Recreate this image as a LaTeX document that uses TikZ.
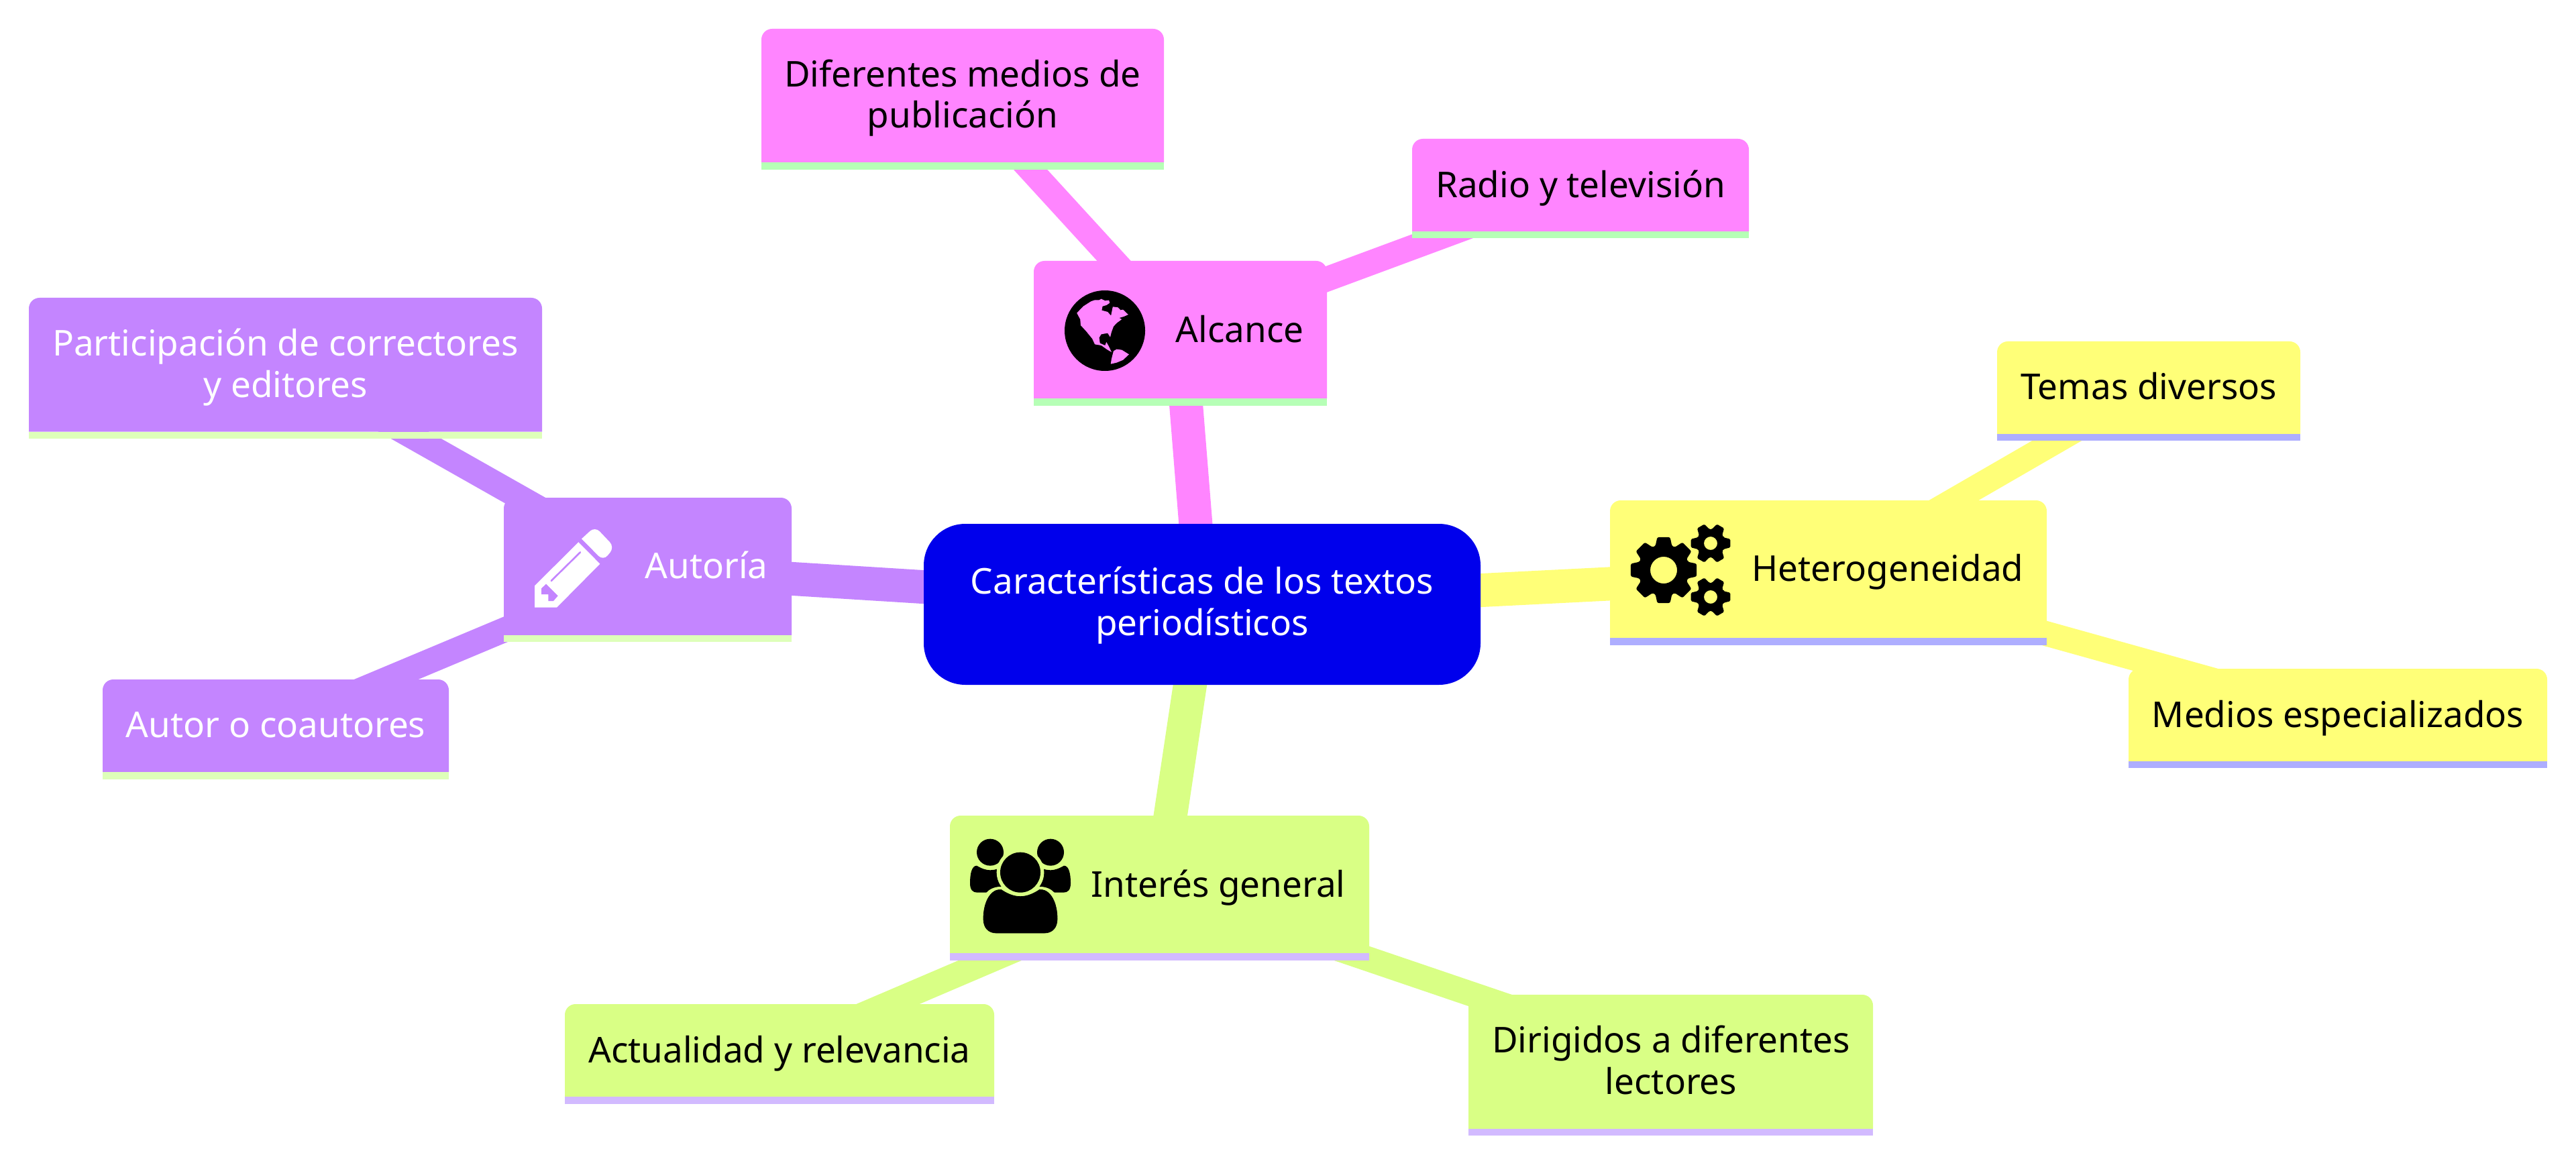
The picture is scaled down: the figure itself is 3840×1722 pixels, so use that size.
\documentclass[tikz,border=0pt]{standalone}
\usepackage{fontspec}
\setmainfont{Noto Sans}
\pgfdeclarelayer{edges}
\pgfsetlayers{edges,main}
\definecolor{cRoot}{HTML}{0000EC}
\definecolor{cYel}{HTML}{FFFF78}
\definecolor{cLime}{HTML}{D9FF85}
\definecolor{cPur}{HTML}{C485FF}
\definecolor{cPink}{HTML}{FF85FF}
\definecolor{sYel}{HTML}{AEAEFF}
\definecolor{sLime}{HTML}{D2BAFF}
\definecolor{sPur}{HTML}{DEFFB9}
\definecolor{sPink}{HTML}{B6FFB6}
\tikzset{
  x=0.5pt,y=-0.5pt,
  boxanchor/.style={inner sep=0pt,outer sep=0pt,rectangle},
  lab/.style={anchor=base,align=center,inner sep=0pt,font=\fontsize{26.5}{30.7}\selectfont},
  labW/.style={lab,text=white},
  edgeA/.style={line width=25pt,line cap=butt},
  edgeB/.style={line width=18.5pt,line cap=butt}
}
% shape of a box: x0, y0, x1, y1 (fill end), y2 (stripe end), fill, stripe
\newcommand\mmshape[7]{%
  \fill[#6] (#1,#4) [rounded corners=8pt] -- (#1,#2) -- (#3,#2) [sharp corners] -- (#3,#4) -- cycle;
  \fill[#7] (#1,#4) rectangle (#3,#5);
}
% branch box: anchor node spans fill and stripe
\newcommand\mmbox[8]{%
  \node[boxanchor,minimum width={(#4-#2)*0.5pt},minimum height={(#6-#3)*0.5pt}] (#1) at ({(#2+#4)/2},{(#3+#6)/2}) {};
  \mmshape{#2}{#3}{#4}{#5}{#6}{#7}{#8}
}
% leaf box: anchor node spans the fill only
\newcommand\mmleaf[8]{%
  \node[boxanchor,minimum width={(#4-#2)*0.5pt},minimum height={(#5-#3)*0.5pt}] (#1) at ({(#2+#4)/2},{(#3+#5)/2}) {};
  \mmshape{#2}{#3}{#4}{#5}{#6}{#7}{#8}
}
\newcommand\gearbig[2]{%
  \begin{scope}[shift={(#1,#2)}]
  \fill[black,even odd rule] [rounded corners=1.2pt] (-19:38)
    \foreach \a in {0,45,...,315} { -- (\a-19:38) -- (\a-11:50) -- (\a+11:50) -- (\a+19:38) } -- cycle
    [sharp corners] (0,0) circle (20);
  \end{scope}
}
\newcommand\gearsmall[2]{%
  \begin{scope}[shift={(#1,#2)}]
  \fill[black,even odd rule] [rounded corners=0.8pt] (-25:21)
    \foreach \a in {0,60,...,300} { -- (\a-25:21) -- (\a-12:30) -- (\a+12:30) -- (\a+25:21) } -- cycle
    [sharp corners] (0,0) circle (10);
  \end{scope}
}
\begin{document}
\begin{tikzpicture}
\useasboundingbox (0,0) rectangle (3840,1722);
\begin{pgfonlayer}{edges}
\fill[white] (0,0) rectangle (3840,1722);
\end{pgfonlayer}

% root
\node[boxanchor,minimum width=415pt,minimum height=120pt] (root) at (1792,901) {};
\fill[cRoot,rounded corners=31pt] (1377,781) rectangle (2207,1021);
\node[labW] (rootT) at (1792,947) {Características de los textos\\periodísticos};

% Alcance branch
\mmbox{al}{1541}{389}{1978}{594}{605}{cPink}{sPink}
\mmleaf{dif}{1135}{43}{1735}{242}{253}{cPink}{sPink}
\mmleaf{rad}{2105}{207}{2607}{345}{355}{cPink}{sPink}
% Heterogeneidad branch
\mmbox{het}{2400}{746}{3051}{951}{962}{cYel}{sYel}
\mmleaf{tem}{2977}{509}{3429}{647}{657}{cYel}{sYel}
\mmleaf{med}{3173}{997}{3797}{1135}{1145}{cYel}{sYel}
% Interes branch
\mmbox{int}{1416}{1216}{2041}{1421}{1432}{cLime}{sLime}
\mmleaf{act}{842}{1497}{1482}{1635}{1646}{cLime}{sLime}
\mmleaf{dir}{2189}{1483}{2792}{1683}{1693}{cLime}{sLime}
% Autoria branch
\mmbox{aut}{751}{742}{1180}{947}{957}{cPur}{sPur}
\mmleaf{par}{43}{444}{808}{643.5}{654}{cPur}{sPur}
\mmleaf{coa}{153}{1013}{669}{1151}{1161.5}{cPur}{sPur}

\begin{pgfonlayer}{edges}
\draw[edgeA,cPink] (root.center) -- (al.center);
\draw[edgeA,cYel] (root.center) -- (het.center);
\draw[edgeA,cLime] (root.center) -- (int.center);
\draw[edgeA,cPur] (root.center) -- (aut.center);
\draw[edgeB,cPink] (al.center) -- (dif.center);
\draw[edgeB,cPink] (al.center) -- (rad.center);
\draw[edgeB,cYel] (het.center) -- (tem.center);
\draw[edgeB,cYel] (het.center) -- (med.center);
\draw[edgeB,cLime] (int.center) -- (act.center);
\draw[edgeB,cLime] (int.center) -- (dir.center);
\draw[edgeB,cPur] (aut.center) -- (par.center);
\draw[edgeB,cPur] (aut.center) -- (coa.center);
\end{pgfonlayer}

% labels
\node[lab] (alT) at (1848,510) {Alcance};
\node[lab] (difT) at (1435,191) {Diferentes medios de\\publicación};
\node[lab] (radT) at (2356,295) {Radio y televisión};
\node[lab] (hetT) at (2814,866) {Heterogeneidad};
\node[lab] (temT) at (3203,596) {Temas diversos};
\node[lab] (medT) at (3485,1084) {Medios especializados};
\node[lab] (intT) at (1816,1337) {Interés general};
\node[lab] (actT) at (1162,1584) {Actualidad y relevancia};
\node[lab] (dirT) at (2491,1631) {Dirigidos a diferentes\\lectores};
\node[labW] (autT) at (1053,862) {Autoría};
\node[labW] (parT) at (425.5,592) {Participación de correctores\\y editores};
\node[labW] (coaT) at (411,1099) {Autor o coautores};

% globe icon
\fill[black] (1647,493) circle (60);
\begin{scope}[shift={(1500,350)},x=0.19135pt,y=-0.16667pt]
\fill[cPink] (275,350) -- (300,320) -- (330,298) -- (345,292) -- (362,292) -- (370,287) -- (385,295) -- (400,293) -- (403,305) -- (390,315) -- (375,320) -- (372,338) -- (395,345) -- (408,362) -- (415,322) -- (435,325) -- (445,337) -- (455,335) -- (475,357) -- (460,365) -- (440,372) -- (450,378) -- (430,395) -- (418,410) -- (410,435) -- (405,458) -- (395,440) -- (370,445) -- (362,460) -- (365,485) -- (385,495) -- (390,480) -- (400,500) -- (410,525) -- (395,515) -- (370,495) -- (345,490) -- (335,465) -- (310,430) -- (290,405) -- (288,378) -- cycle;
\fill[cPink] (407,578) -- (410,555) -- (418,520) -- (430,512) -- (450,515) -- (478,535) -- (455,560) -- (430,572) -- cycle;
\draw[black,line width=0.6pt] (312,435) -- (322,463);
\end{scope}

% gears icon
\gearbig{2480}{850}
\gearsmall{2550}{810}
\gearsmall{2550}{890}

% users icon
\begin{scope}[shift={(1400,1200)},x=0.16667pt,y=-0.16667pt]
\fill[black] (228,212) circle (60);
\fill[black] (498,212) circle (60);
\fill[black] (168,272) .. controls (190,285) and (210,292) .. (228,292) .. controls (240,292) and (250,290) .. (265,285) -- (278,365) -- (218,392) -- (170,392) .. controls (150,392) and (138,380) .. (138,350) .. controls (138,310) and (145,272) .. (168,272) -- cycle;
\fill[black] (558,272) .. controls (536,285) and (516,292) .. (498,292) .. controls (486,292) and (476,290) .. (461,285) -- (448,365) -- (508,392) -- (556,392) .. controls (576,392) and (588,380) .. (588,350) .. controls (588,310) and (581,272) .. (558,272) -- cycle;
\fill[cLime] (363,302) circle (106);
\fill[black] (363,302) circle (90);
\filldraw[black] (275,378) .. controls (300,395) and (330,410) .. (363,410) .. controls (396,410) and (426,395) .. (451,378) .. controls (500,380) and (528,440) .. (528,510) .. controls (528,550) and (505,573) .. (470,573) -- (256,573) .. controls (221,573) and (198,550) .. (198,510) .. controls (198,440) and (226,380) .. (275,378) -- cycle;
\draw[cLime,line width=2pt] (275,372) .. controls (245,372) and (225,385) .. (212,400);
\draw[cLime,line width=2pt] (451,372) .. controls (481,372) and (501,385) .. (514,400);
\end{scope}

% pencil icon
\begin{scope}[shift={(740,720)},x=0.16667pt,y=-0.16667pt]
\fill[white,rounded corners=5pt] (381,250) -- (441,195) -- (528,287) -- (478,348) [sharp corners] -- cycle;
\fill[white] (367,265) -- (463,362) -- (270,557) -- (171,557) -- (171,460) -- cycle;
\draw[cPur,line width=1.3pt,line cap=round] (375,310) -- (245,438);
\fill[cPur] (222,452) -- (275,505) -- (255,528) -- (232,528) -- (232,498) -- (201,498) -- (201,472) -- cycle;
\end{scope}
\end{tikzpicture}
\end{document}
